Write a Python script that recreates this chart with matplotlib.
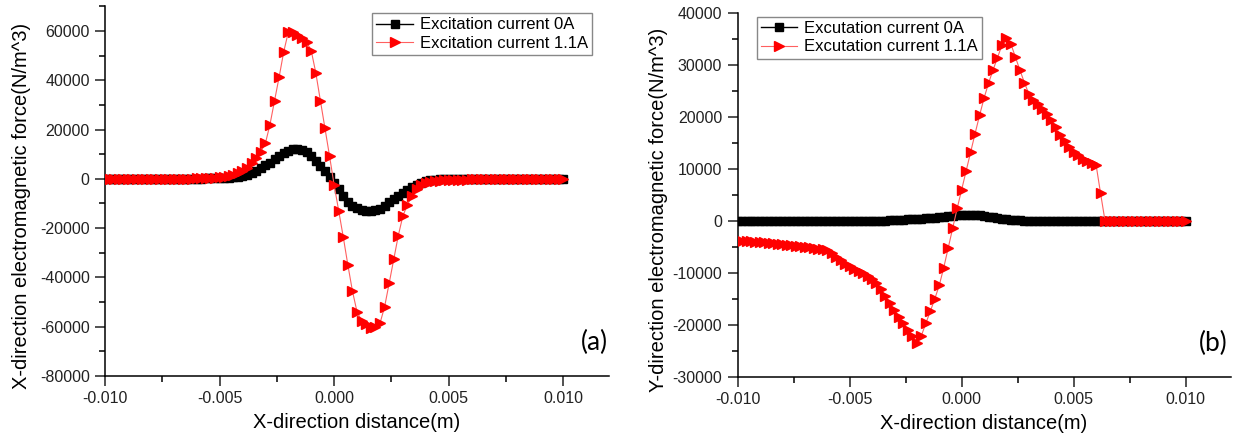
import numpy as np
import matplotlib
matplotlib.use('Agg')
import matplotlib.pyplot as plt
from matplotlib.ticker import MultipleLocator, FormatStrFormatter

plt.rcParams['font.family'] = ['Liberation Sans', 'DejaVu Sans']
plt.rcParams['axes.unicode_minus'] = False

# x positions of the nodes, m (step 0.0002)
x_pos = np.linspace(-0.010, 0.010, 101)

# (a) X-direction force, N/m^3
fx_0A = [0, 0, 0, 0, 0, 0, 0, 0, 10, 10,
         10, 20, 20, 30, 30, 40, 50, 60, 70, 80,
         100, 120, 140, 170, 200, 250, 320, 420, 560, 800,
         1150, 1700, 2400, 3300, 4300, 5400, 6600, 7900, 9200, 10400,
         11400, 12000, 12100, 11700, 10700, 9100, 7100, 5000, 3000, 900,
         -1800, -4200, -7000, -9300, -10900, -11900, -12500, -12900, -13000, -12800,
         -12100, -10900, -9500, -8100, -6800, -5600, -4500, -3500, -2500, -1500,
         -800, -450, -300, -220, -170, -130, -100, -80, -60, -50,
         -40, -30, -20, -20, -10, -10, 0, 0, 0, 0,
         0, 0, 0, 0, 0, 0, 0, 0, 0, 0, 0]
fx_11A = [0, 0, 0, 0, 0, 10, 10, 10, 20, 20,
          20, 30, 30, 40, 50, 60, 70, 80, 100, 120,
          150, 180, 220, 270, 330, 600, 800, 1100, 1500, 2200,
          3300, 4500, 6500, 8500, 11000, 14400, 22000, 31700, 41300, 51500,
          59500, 59700, 58500, 57000, 55500, 52000, 43000, 31700, 20500, 9200,
          -2500, -13000, -23700, -35000, -45600, -54000, -57500, -59000, -60500, -60000,
          -58600, -52000, -42400, -32700, -23000, -15000, -10500, -7000, -4200, -2500,
          -1500, -1100, -900, -750, -650, -550, -450, -400, -350, -300,
          -250, -200, -150, -100, -80, -60, -50, -40, -30, -20,
          -10, -10, 0, 0, 0, 0, 0, 0, 0, 0, 0]

# (b) Y-direction force, N/m^3
fy_0A = [0, 0, 0, 0, 0, 0, 0, 0, 0, 0,
         0, 0, 0, 0, 0, 0, 0, 0, 0, 0,
         0, 0, 0, 0, 0, 0, 0, 0, 0, 0,
         0, 20, 50, 80, 110, 150, 190, 230, 280, 330,
         380, 440, 500, 570, 650, 730, 820, 900, 980, 1060,
         1150, 1200, 1200, 1150, 1050, 930, 800, 670, 540, 420,
         310, 220, 150, 90, 50, 20, 0, 0, 0, 0,
         0, 0, 0, 0, 0, 0, 0, 0, 0, 0,
         0, 0, 0, 0, 0, 0, 0, 0, 0, 0,
         0, 0, 0, 0, 0, 0, 0, 0, 0, 0, 0]
fy_11A = [-3800, -3850, -3900, -3950, -4000, -4050, -4100, -4200, -4300, -4350,
          -4450, -4550, -4650, -4750, -4850, -5000, -5100, -5250, -5400, -5450,
          -5500, -6200, -6900, -7600, -8200, -8700, -9300, -9700, -10100, -10600,
          -11200, -12000, -13100, -14500, -15800, -17100, -18400, -19700, -20900, -22100,
          -23500, -22100, -19700, -17400, -15000, -12400, -9000, -5200, -1400, 2400,
          6000, 9600, 13200, 16800, 20300, 23600, 26500, 29000, 31400, 33800,
          35200, 34000, 31500, 29000, 26600, 24400, 23300, 22400, 21500, 20600,
          19400, 18000, 16600, 15300, 14300, 13300, 12600, 12000, 11500, 11100,
          10800, 5300, 0, 0, 0, 0, 0, 0, 0, 0,
          0, 0, 0, 0, 0, 0, 0, 0, 0, 0, 0]

labels_a = ['Excitation current 0A', 'Excitation current 1.1A']
labels_b = ['Excutation current 0A', 'Excutation current 1.1A']


def style_axes(ax, ymaj, ymin):
    for s in ['top', 'right']:
        ax.spines[s].set_visible(False)
    for s in ['left', 'bottom']:
        ax.spines[s].set_linewidth(1.1)
    ax.xaxis.set_major_locator(MultipleLocator(0.005))
    ax.xaxis.set_minor_locator(MultipleLocator(0.0025))
    ax.xaxis.set_major_formatter(FormatStrFormatter('%.3f'))
    ax.yaxis.set_major_locator(MultipleLocator(ymaj))
    ax.yaxis.set_minor_locator(MultipleLocator(ymin))
    ax.yaxis.set_major_formatter(FormatStrFormatter('%d'))
    ax.tick_params(which='major', direction='out', length=7, width=1.1,
                   labelsize=11.5, colors='#222222', pad=4)
    ax.tick_params(which='minor', direction='out', length=4, width=1.1)
    ax.set_xlim(-0.010, 0.012)


def draw(ax, y0, y1, labels):
    ax.plot(x_pos, y0, '-', color='black', lw=1.0, marker='s', ms=5.5,
            mfc='black', mec='black', label=labels[0], zorder=2)
    ax.plot(x_pos, y1, '-', color='#ff6060', lw=0.8, marker='>', ms=7,
            mfc='red', mec='red', label=labels[1], zorder=3)


def add_legend(ax, loc, anchor):
    ax.legend(loc=loc, bbox_to_anchor=anchor, borderaxespad=0,
              fontsize=12, handlelength=2.2, numpoints=1, fancybox=False,
              framealpha=1, edgecolor='#888888', borderpad=0.25,
              labelspacing=0.2, handletextpad=0.4)


fig = plt.figure(figsize=(12.48, 4.44), dpi=100)
ax1 = fig.add_axes([0.0841, 0.153, 0.404, 0.833])
ax2 = fig.add_axes([0.591, 0.151, 0.395, 0.820])

# (a)
draw(ax1, fx_0A, fx_11A, labels_a)
style_axes(ax1, 20000, 10000)
ax1.set_ylim(-80000, 70000)
ax1.set_xlabel('X-direction distance(m)', fontsize=14.5, labelpad=5)
ax1.set_ylabel('X-direction electromagnetic force(N/m^3)', fontsize=14.5)
ax1.yaxis.set_label_coords(-0.146, 0.46)
add_legend(ax1, 'upper right', (0.966, 0.981))
ax1.text(0.97, 0.09, '(a)', transform=ax1.transAxes, fontsize=19,
         family='Lato', ha='center', va='center')

# (b)
draw(ax2, fy_0A, fy_11A, labels_b)
style_axes(ax2, 10000, 5000)
ax2.set_ylim(-30000, 40000)
ax2.set_xlabel('X-direction distance(m)', fontsize=14.5, labelpad=5)
ax2.set_ylabel('Y-direction electromagnetic force(N/m^3)', fontsize=14.5)
ax2.yaxis.set_label_coords(-0.142, 0.46)
add_legend(ax2, 'upper left', (0.0385, 0.989))
ax2.text(0.965, 0.093, '(b)', transform=ax2.transAxes, fontsize=19,
         family='Lato', ha='center', va='center')

fig.savefig('out.png', dpi=100)
